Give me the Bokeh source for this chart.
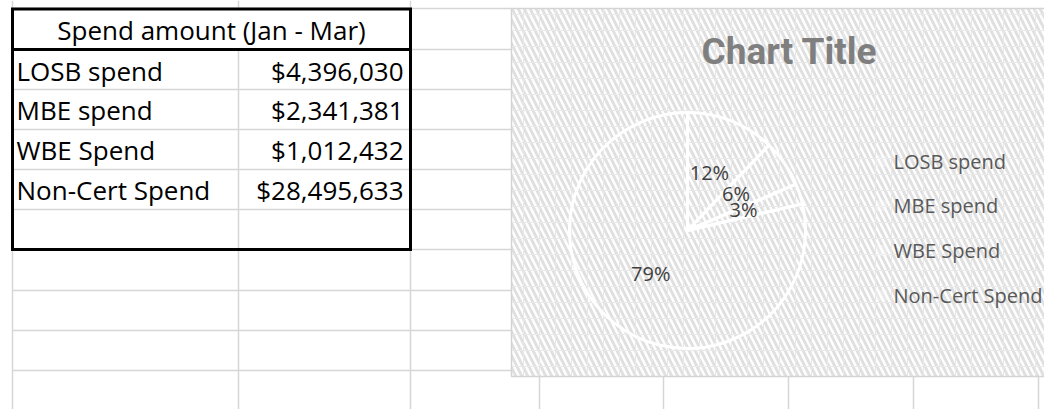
import numpy as np
from bokeh.plotting import figure
from bokeh.models import Range1d, ColumnDataSource
from bokeh.core.properties import value
from bokeh.embed import file_html
from bokeh.resources import INLINE

# ---- data ----
table_title = "Spend amount (Jan - Mar)"
categories = ["LOSB spend", "MBE spend", "WBE Spend", "Non-Cert Spend"]
spend = [4396030, 2341381, 1012432, 28495633]
chart_title = "Chart Title"

# ---- page geometry (1 data unit = 1 px; x = page x, y = 409 - page y) ----
W, H = 1044, 409
def Y(py):
    return H - py

p = figure(width=W, height=H, x_range=Range1d(0, W), y_range=Range1d(0, H),
           x_axis_type=None, y_axis_type=None, toolbar_location=None,
           output_backend="svg", min_border=0)
p.outline_line_color = None
p.grid.visible = False
p.background_fill_color = "white"
p.border_fill_color = "white"

GRID = "#d6d6d6"
row_lines = [8, 49, 89, 129, 169, 209, 249, 290, 330, 370]

# spreadsheet gridlines
p.segment(x0=[12] * len(row_lines), x1=[511] * len(row_lines),
          y0=[Y(r) for r in row_lines], y1=[Y(r) for r in row_lines],
          line_color=GRID, line_width=1.5)
vx = [12, 238, 410]
p.segment(x0=vx, x1=vx, y0=[Y(0)] * 3, y1=[Y(409)] * 3, line_color=GRID, line_width=1.5)
bx = [539, 663, 788, 913, 1038]
p.segment(x0=bx, x1=bx, y0=[Y(376)] * 5, y1=[Y(409)] * 5, line_color=GRID, line_width=1.5)

# merged header cell hides inner gridline
p.quad(left=[13], right=[409], top=[Y(8)], bottom=[Y(49)], fill_color="white", line_color=None)

# thick table border
tb = dict(line_color="black", line_width=3)
p.segment(x0=[10.5, 10.5, 12, 410, 10.5], x1=[411.5, 411.5, 12, 410, 411.5],
          y0=[Y(8.5), Y(249), Y(8.5), Y(8.5), Y(49)], y1=[Y(8.5), Y(249), Y(249), Y(249), Y(49)], **tb)

tfont = value("Open Sans")
p.text(x=[211], y=[Y(29.5)], text=[table_title], text_font=tfont, text_font_size="26px",
       text_align="center", text_baseline="middle", text_color="black")
row_mid = [70.8, 109.8, 149.2, 189.2]
p.text(x=[16] * 4, y=[Y(b) for b in row_mid], text=categories, text_font=tfont,
       text_font_size="26px", text_align="left", text_baseline="middle", text_color="black")
p.text(x=[403] * 4, y=[Y(b) for b in row_mid], text=[f"${v:,}" for v in spend], text_font=tfont,
       text_font_size="26px", text_align="right", text_baseline="middle", text_color="black")

# ---- chart area (patterned fill) ----
CL, CR, CT, CB = 511, 1050, 8, 376
HATCH = dict(hatch_pattern="\\", hatch_color="#e0e0e0", hatch_scale=12, hatch_weight=3)
p.quad(left=[CL], right=[CR], top=[Y(CT)], bottom=[Y(CB)], fill_color="white",
       line_color=None, **HATCH)
# faint cell lattice of the pattern
gx = np.arange(523, CR, 16)
gy = np.arange(14, CB, 16)
p.segment(x0=gx, x1=gx, y0=[Y(CT)] * len(gx), y1=[Y(CB)] * len(gx), line_color="#e9e9e9", line_width=1)
p.segment(x0=[CL] * len(gy), x1=[CR] * len(gy), y0=[Y(v) for v in gy], y1=[Y(v) for v in gy],
          line_color="#e9e9e9", line_width=1)
p.quad(left=[CL], right=[CR], top=[Y(CT)], bottom=[Y(CB)], fill_alpha=0,
       line_color="#d4d4d4", line_width=1.5)

p.text(x=[789], y=[Y(50.5)], text=[chart_title], text_font=value("Roboto"), text_font_style="bold",
       text_font_size="37px", text_align="center", text_baseline="middle", text_color="#7f7f7f")

# pie (slices share the chart's pattern; white outlines)
vals = np.array(spend, dtype=float)
frac = vals / vals.sum()
cum = np.concatenate([[0], np.cumsum(frac)])
start = np.pi / 2 - 2 * np.pi * cum[:-1]
end = np.pi / 2 - 2 * np.pi * cum[1:]
mid = (start + end) / 2
cx, cy, R = 687, Y(230), 118
src = ColumnDataSource(dict(cat=categories, start=start, end=end))
p.wedge(x=cx, y=cy, radius=R, start_angle="start", end_angle="end", direction="clock",
        source=src, fill_color="white", fill_alpha=0, line_color="white", line_width=3)

lr = 0.5 * R
labels = [f"{round(f * 100)}%" for f in frac]
p.text(x=cx + lr * np.cos(mid), y=cy + lr * np.sin(mid) + 3, text=labels, text_font=tfont,
       text_font_size="20px", text_align="center", text_baseline="middle", text_color="#404040")

# legend
leg_mid = [160.5 + i * 44.8 for i in range(len(categories))]
p.rect(x=[881] * 4, y=[Y(b) for b in leg_mid], width=11, height=11, fill_color="white",
       fill_alpha=0.3, line_color=None)
p.text(x=[893] * 4, y=[Y(b) for b in leg_mid], text=categories, text_font=tfont,
       text_font_size="20px", text_align="left", text_baseline="middle", text_color="#595959")

open("out.html", "w").write(file_html(p, INLINE))
